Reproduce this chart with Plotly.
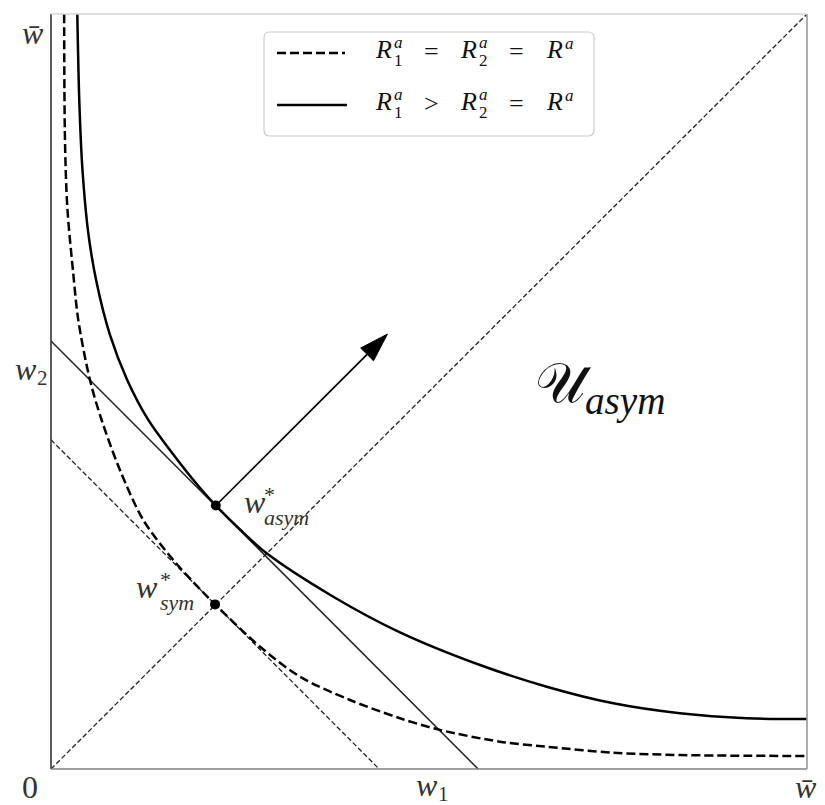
import math
import plotly.graph_objects as go

# ---------------- data (w̄ = 1) ----------------
# symmetric-risk indifference curve (dashed)
SYM_CURVE_X = [0.0174, 0.0185, 0.0216, 0.0295, 0.0362, 0.0517, 0.0672, 0.0914, 0.1223,
               0.1620, 0.1970, 0.2170, 0.2765, 0.3294, 0.3955, 0.4616, 0.5146, 0.5939,
               0.6557, 0.7438, 0.8320, 1.0000]
SYM_CURVE_Y = [1.0000, 0.8320, 0.7438, 0.6557, 0.5939, 0.5146, 0.4616, 0.3955, 0.3294,
               0.2765, 0.2384, 0.2180, 0.1620, 0.1223, 0.0914, 0.0672, 0.0517, 0.0362,
               0.0295, 0.0216, 0.0185, 0.0172]

# asymmetric-risk indifference curve (solid)
ASYM_CURVE_X = [0.0348, 0.0374, 0.0414, 0.0493, 0.0604, 0.0780, 0.1005, 0.1287, 0.1600,
                0.1958, 0.2183, 0.2500, 0.2853, 0.3734, 0.4616, 0.5675, 0.6557, 0.7438,
                0.8320, 0.9202, 1.0000]
ASYM_CURVE_Y = [1.000, 0.886, 0.797, 0.710, 0.644, 0.575, 0.516, 0.4623, 0.4190,
                0.3739, 0.3487, 0.3172, 0.2857, 0.2282, 0.1810, 0.1377, 0.1090, 0.0870,
                0.0738, 0.0672, 0.0662]

DIAG_X = [0.0, 1.0]
DIAG_Y = [0.0, 1.0]

SYM_LINE_X = [0.0, 0.434]
SYM_LINE_Y = [0.436, 0.0]

ASYM_LINE_X = [0.0, 0.565]
ASYM_LINE_Y = [0.567, 0.0]

W_SYM = (0.217, 0.218)
W_ASYM = (0.218, 0.349)
ARROW_TIP = (0.445, 0.576)

# text content
LEGEND_ROW1 = [("R", "1", "a"), "=", ("R", "2", "a"), "=", ("R", "", "a")]
LEGEND_ROW2 = [("R", "1", "a"), "&gt;", ("R", "2", "a"), "=", ("R", "", "a")]
TICK_ZERO = "0"
TICK_WBAR = "w̄"
TICK_W1 = ("w", "1")
TICK_W2 = ("w", "2")
LABEL_ASYM = ("w", "*", "asym")
LABEL_SYM = ("w", "*", "sym")
REGION_LABEL = ("𝒰", "asym")

# ---------------- figure ----------------
W, H = 825, 805
ML, MR, MT, MB = 51, 18, 14, 36
PW, PH = W - ML - MR, H - MT - MB

SERIF = "Liberation Serif, DejaVu Serif, serif"
TXT = "#333333"


def px2x(p):
    return (p - ML) / PW


def py2y(p):
    return (H - MB - p) / PH


fig = go.Figure()

thin_dash = "5px,2.5px"
thick_dash = "9px,4px"

fig.add_trace(go.Scatter(x=DIAG_X, y=DIAG_Y, mode="lines",
                         line=dict(color="#222", width=1.3, dash=thin_dash),
                         showlegend=False, hoverinfo="skip"))
fig.add_trace(go.Scatter(x=SYM_LINE_X, y=SYM_LINE_Y, mode="lines",
                         line=dict(color="#222", width=1.3, dash=thin_dash),
                         showlegend=False, hoverinfo="skip"))
fig.add_trace(go.Scatter(x=ASYM_LINE_X, y=ASYM_LINE_Y, mode="lines",
                         line=dict(color="#222", width=1.5),
                         showlegend=False, hoverinfo="skip"))
fig.add_trace(go.Scatter(x=SYM_CURVE_X, y=SYM_CURVE_Y, mode="lines",
                         line=dict(color="black", width=2.5, dash=thick_dash, shape="spline", smoothing=0.9),
                         showlegend=False, hoverinfo="skip"))
fig.add_trace(go.Scatter(x=ASYM_CURVE_X, y=ASYM_CURVE_Y, mode="lines",
                         line=dict(color="black", width=2.5, shape="spline", smoothing=0.9),
                         showlegend=False, hoverinfo="skip"))

# arrow (shaft + filled head)
dx = ARROW_TIP[0] - W_ASYM[0]
dy = ARROW_TIP[1] - W_ASYM[1]
L = math.hypot(dx, dy)
ux, uy = dx / L, dy / L
head_len, head_w = 0.038, 0.024
bx, by = ARROW_TIP[0] - head_len * ux, ARROW_TIP[1] - head_len * uy
nx, ny = -uy, ux
fig.add_trace(go.Scatter(x=[W_ASYM[0], bx], y=[W_ASYM[1], by], mode="lines",
                         line=dict(color="black", width=1.7),
                         showlegend=False, hoverinfo="skip"))
fig.add_trace(go.Scatter(x=[ARROW_TIP[0], bx + head_w / 2 * nx, bx - head_w / 2 * nx, ARROW_TIP[0]],
                         y=[ARROW_TIP[1], by + head_w / 2 * ny, by - head_w / 2 * ny, ARROW_TIP[1]],
                         mode="lines", fill="toself", fillcolor="black",
                         line=dict(color="black", width=1),
                         showlegend=False, hoverinfo="skip"))

# points
fig.add_trace(go.Scatter(x=[W_SYM[0], W_ASYM[0]], y=[W_SYM[1], W_ASYM[1]], mode="markers",
                         marker=dict(color="black", size=10),
                         showlegend=False, hoverinfo="skip"))

# spines
spines = [
    dict(x0=0, y0=0, x1=0, y1=1, color="#333333"),
    dict(x0=0, y0=0, x1=1, y1=0, color="#808080"),
    dict(x0=1, y0=0, x1=1, y1=1, color="#9a9a9a"),
    dict(x0=0, y0=1, x1=1, y1=1, color="#d4d4d4"),
]
for s in spines:
    fig.add_shape(type="line", xref="paper", yref="paper",
                  x0=s["x0"], y0=s["y0"], x1=s["x1"], y1=s["y1"],
                  line=dict(color=s["color"], width=1.6), layer="above")


def txt(t, x, y, size, anchor="left", color=TXT, italic=True, family=SERIF):
    fig.add_annotation(x=px2x(x), y=py2y(y), xref="paper", yref="paper",
                       text=(f"<i>{t}</i>" if italic else t), showarrow=False,
                       xanchor=anchor, yanchor="middle",
                       font=dict(family=family, size=size, color=color))


def stack(sup, sub, x, y, size, gap, anchor="left", color=TXT, sub_italic=False, sup_italic=False):
    """superscript stacked over subscript; line gap set by the annotation font size"""
    sp = f"<i>{sup}</i>" if sup_italic else sup
    sb = f"<i>{sub}</i>" if sub_italic else sub
    t = (f"<span style='font-size:{size}px'>{sp}</span><br>"
         f"<span style='font-size:{size}px'>{sb}</span>")
    fig.add_annotation(x=px2x(x), y=py2y(y), xref="paper", yref="paper",
                       text=t, showarrow=False, xanchor=anchor, yanchor="middle", align="left",
                       font=dict(family=SERIF, size=gap / 1.3, color=color))


# legend box with rounded corners
bx0, bx1, by0, by1 = px2x(264), px2x(594), py2y(136), py2y(32)
rx, ry = 6 / PW, 6 / PH
path = (f"M{bx0 + rx},{by0} L{bx1 - rx},{by0} Q{bx1},{by0} {bx1},{by0 + ry} "
        f"L{bx1},{by1 - ry} Q{bx1},{by1} {bx1 - rx},{by1} "
        f"L{bx0 + rx},{by1} Q{bx0},{by1} {bx0},{by1 - ry} "
        f"L{bx0},{by0 + ry} Q{bx0},{by0} {bx0 + rx},{by0} Z")
fig.add_shape(type="path", xref="paper", yref="paper", path=path,
              line=dict(color="#cccccc", width=1.2), fillcolor="rgba(255,255,255,0.8)")
fig.add_shape(type="line", xref="paper", yref="paper",
              x0=px2x(277), x1=px2x(345), y0=py2y(53), y1=py2y(53),
              line=dict(color="black", width=2.5, dash=thick_dash))
fig.add_shape(type="line", xref="paper", yref="paper",
              x0=px2x(277), x1=px2x(347), y0=py2y(105), y1=py2y(105),
              line=dict(color="black", width=2.5))

# legend tokens: x positions of each token (px)
row_x = [373, 431, 458, 516, 544]
for row, yc in ((LEGEND_ROW1, 50), (LEGEND_ROW2, 102)):
    for tok, x in zip(row, row_x):
        if isinstance(tok, tuple):
            base, sub, sup = tok
            txt(base, x, yc, 26, color="#111")
            if sub:
                stack(sup, sub, x + 19, yc + 1, 17, 18, color="#111", sup_italic=True)
            else:
                txt(sup, x + 19, yc - 7, 17, color="#111")
        else:
            txt(tok, x, yc + 1, 26, anchor="center", color="#111", italic=False)

# tick-like labels
txt(TICK_ZERO, 30, 787, 32, anchor="center", italic=False)
txt(TICK_WBAR, 806, 787, 32, anchor="center")
txt(TICK_WBAR, 33, 33, 32, anchor="center")
txt(TICK_W1[0], 414, 785, 32)
txt(TICK_W1[1], 436, 794, 21, italic=False)
txt(TICK_W2[0], 13, 369, 32)
txt(TICK_W2[1], 35, 378, 21, italic=False)

# point labels
txt(LABEL_ASYM[0], 242, 502, 32)
stack(LABEL_ASYM[1], LABEL_ASYM[2], 262, 506, 22, 23, sub_italic=True)
txt(LABEL_SYM[0], 160, 587, 32, anchor="right")
stack(LABEL_SYM[1], LABEL_SYM[2], 196, 591, 22, 23, anchor="right", sub_italic=True)

# region label (single text: script U with italic subscript)
fig.add_annotation(x=px2x(533), y=py2y(387), xref="paper", yref="paper",
                   text=f"{REGION_LABEL[0]}<sub><i>{REGION_LABEL[1]}</i></sub>",
                   showarrow=False, xanchor="left", yanchor="middle",
                   font=dict(family=SERIF, size=56, color="#111"))

fig.update_layout(
    width=W, height=H,
    margin=dict(l=ML, r=MR, t=MT, b=MB),
    paper_bgcolor="white", plot_bgcolor="white",
    xaxis=dict(range=[0, 1], showgrid=False, zeroline=False, showticklabels=False,
               showline=False, ticks="", fixedrange=True),
    yaxis=dict(range=[0, 1], showgrid=False, zeroline=False, showticklabels=False,
               showline=False, ticks="", fixedrange=True),
    showlegend=False,
)

fig.write_html("out.html")
